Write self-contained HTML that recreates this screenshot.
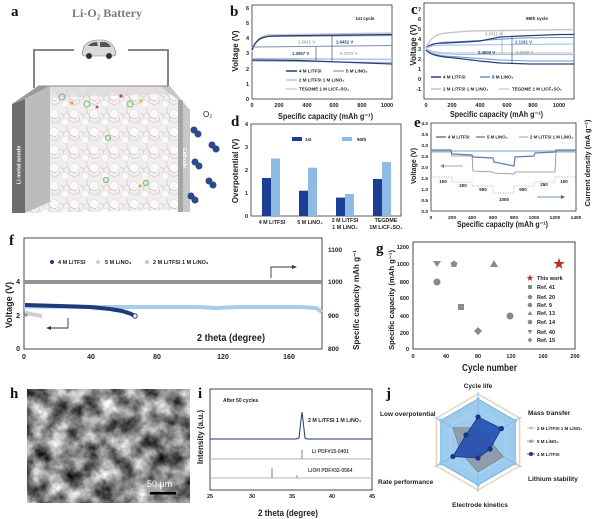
<!DOCTYPE html>
<html><head><meta charset="utf-8"><style>
html,body{margin:0;padding:0;background:#fff;}
svg{display:block;}
text{font-family:"Liberation Sans",Arial,sans-serif;font-weight:bold;fill:#222;}
.s{font-family:"Liberation Serif",serif;font-weight:bold;fill:#111;}
</style></head><body>
<svg width="600" height="519" viewBox="0 0 600 519" xmlns="http://www.w3.org/2000/svg">
<defs>
<pattern id="mol" width="20" height="18" patternUnits="userSpaceOnUse">
<rect width="20" height="18" fill="#f0eeee"/>
<circle cx="14" cy="6" r="4.5" fill="#fafafa" stroke="#d6d6d6" stroke-width="0.5"/>
<circle cx="5" cy="14" r="3.5" fill="#fafafa" stroke="#d6d6d6" stroke-width="0.5"/>
<path d="M0,5 L4,7 L7,4 L10,9 L9,12 L14,15 L19,13 M4,7 L3,10 M10,9 L16,11 M7,4 L7,0 M19,13 L20,9" stroke="#d2b2b2" stroke-width="0.5" fill="none"/>
</pattern>
<pattern id="hatch" width="3" height="3" patternUnits="userSpaceOnUse">
<rect width="3" height="3" fill="#d2d2d2"/>
<path d="M0,3 L3,0" stroke="#a9a9a9" stroke-width="0.6"/>
</pattern>
<filter id="sem" x="0" y="0" width="100%" height="100%" color-interpolation-filters="sRGB">
<feTurbulence type="fractalNoise" baseFrequency="0.06" numOctaves="4" seed="7"/>
<feColorMatrix type="matrix" values="1.3 0 0 0 -0.12  1.3 0 0 0 -0.12  1.3 0 0 0 -0.12  0 0 0 0 1"/>
</filter>
</defs>

<!-- ===== Panel a ===== -->
<text class="s" x="11" y="16" font-size="15">a</text>
<text class="s" x="107" y="17" font-size="12" text-anchor="middle" style="fill:#7a7a7a">Li-O₂ Battery</text>
<path d="M34,88 V50 H74 M128,50 H168 V93" stroke="#777" stroke-width="1.8" fill="none"/>
<g>
<path d="M82,53 L84,46 Q88,41 96,40 L104,40 Q110,41 114,47 L116,53 Q116,56 113,56 L85,56 Q82,56 82,53 Z" fill="#dadada" stroke="#777" stroke-width="0.6"/>
<path d="M88,46 Q91,42 97,42 L98,46 Z" fill="#555"/>
<path d="M100,42 L105,42 Q109,43 111,47 L100,47 Z" fill="#555"/>
<circle cx="89" cy="56" r="3" fill="#333"/><circle cx="109" cy="56" r="3" fill="#333"/>
</g>
<polygon points="50,86 166,86 178,96 178,210 25,213 50,202" fill="url(#mol)"/>
<polygon points="50,86 166,86 172,94 50,98" fill="#d9d4d6" opacity="0.6"/>
<polygon points="12,104 38,86 50,86 25,99" fill="#9a9a9a"/>
<polygon points="25,99 50,86 50,202 25,213" fill="#bcbcbc"/>
<polygon points="12,104 25,99 25,213 12,213" fill="#6d6d6d"/>
<polygon points="160,86 170,86 190,110 190,212 180,212 178,100" fill="url(#hatch)"/>
<rect x="178" y="100" width="5" height="112" fill="#a5a5a5"/>
<path d="M38,86 H168" stroke="#8a8a8a" stroke-width="1"/>
<g fill="none" stroke="#7cc47c" stroke-width="1.2">
<circle cx="62" cy="97" r="3"/><circle cx="87" cy="104" r="3"/><circle cx="130" cy="104" r="3"/><circle cx="108" cy="138" r="2.5"/><circle cx="106" cy="180" r="2.5"/><circle cx="146" cy="183" r="2.5"/>
</g>
<circle cx="72" cy="103" r="1.6" fill="#e8a040"/><circle cx="121" cy="96" r="1.6" fill="#d04040"/><circle cx="141" cy="101" r="1.6" fill="#e0c040"/><circle cx="140" cy="186" r="1.5" fill="#e0b040"/><circle cx="97" cy="107" r="1.4" fill="#d04040"/>
<text x="18.5" y="167" font-size="5.5" text-anchor="middle" transform="rotate(-90 18.5 165)" style="fill:#fff">Li metal anode</text>
<text x="185" y="160" font-size="5" text-anchor="middle" transform="rotate(90 185 158)" style="fill:#fff">Cathode</text>
<text x="203" y="117" font-size="8" style="font-weight:normal">O₂</text>
<g fill="#2c4a8a">
<circle cx="194" cy="130" r="3.5"/><circle cx="198" cy="134" r="3.5"/>
<circle cx="212" cy="145" r="3.5"/><circle cx="216" cy="149" r="3.5"/>
<circle cx="195" cy="162" r="3.5"/><circle cx="199" cy="166" r="3.5"/>
<circle cx="209" cy="181" r="3.5"/><circle cx="213" cy="185" r="3.5"/>
<circle cx="191" cy="196" r="3.5"/><circle cx="195" cy="200" r="3.5"/>
</g>

<!-- ===== Panel b ===== -->
<text class="s" x="230" y="16" font-size="15">b</text>
<rect x="252" y="5" width="140" height="94" fill="none" stroke="#333" stroke-width="0.8"/>
<g font-size="5.5" text-anchor="end">
<text x="249" y="101">0</text><text x="249" y="86">1</text><text x="249" y="71">2</text><text x="249" y="55">3</text><text x="249" y="40">4</text><text x="249" y="25">5</text><text x="249" y="10">6</text>
</g>
<g font-size="5.5" text-anchor="middle">
<text x="252" y="107">0</text><text x="279" y="107">200</text><text x="307" y="107">400</text><text x="334" y="107">600</text><text x="362" y="107">800</text><text x="387" y="107">1000</text>
</g>
<text x="278" y="119" font-size="8" textLength="95" lengthAdjust="spacingAndGlyphs">Specific capacity (mAh g⁻¹)</text>
<text x="0" y="0" font-size="8" text-anchor="middle" transform="translate(238,51) rotate(-90)">Voltage (V)</text>
<g fill="none">
<path d="M252,52 C255,40 260,36 268,35 L392,33" stroke="#c8c8c8" stroke-width="1.5"/>
<path d="M252,48 C256,40 262,37 270,36.5 L392,35.5" stroke="#8aa0bb" stroke-width="1"/>
<path d="M252,50 C256,39 262,36.5 272,36 L392,34.5" stroke="#23407f" stroke-width="1.2"/>
<path d="M252,47 L392,45.5" stroke="#7d8ea6" stroke-width="1"/>
<path d="M252,58.5 L392,59.5" stroke="#a6c6e4" stroke-width="1.5"/>
<path d="M252,61 L392,62.5" stroke="#aaa" stroke-width="1"/>
<path d="M252,60 L300,60.5 L392,64" stroke="#23407f" stroke-width="1.2"/>
<path d="M316,47 V60 M332,36 V61" stroke="#23407f" stroke-width="0.6"/>
</g>
<text x="365" y="20" font-size="4.5" text-anchor="middle">1st cycle</text>
<g font-size="4.3">
<text x="298" y="43.5" style="fill:#aaa">1.5912 V</text>
<text x="336" y="43.5" style="fill:#23407f">1.6452 V</text>
<text x="292" y="55" style="fill:#23407f">1.0957 V</text>
<text x="340" y="55" style="fill:#aaa">0.7073 V</text>
</g>
<g stroke-width="1.5">
<path d="M286,71 H297" stroke="#23407f"/><path d="M333,71 H344" stroke="#aaa"/>
<path d="M286,80 H297" stroke="#a6c6e4"/><path d="M286,89 H297" stroke="#d0d0d0"/>
</g>
<g font-size="4.5">
<text x="299" y="72.5">4 M LiTFSI</text><text x="346" y="72.5">5 M LiNO₃</text>
<text x="299" y="81.5">2 M LiTFSI 1 M LiNO₃</text><text x="299" y="90.5">TEGDME 1 M LiCF₃SO₃</text>
</g>

<!-- ===== Panel c ===== -->
<text class="s" x="411" y="14" font-size="15">c</text>
<rect x="424" y="3" width="150" height="96" fill="none" stroke="#333" stroke-width="0.8"/>
<g font-size="5.5" text-anchor="end">
<text x="421" y="11.5">7</text><text x="421" y="21">6</text><text x="421" y="31">5</text><text x="421" y="41">4</text><text x="421" y="51">3</text><text x="421" y="61">2</text><text x="421" y="71">1</text><text x="421" y="81">0</text><text x="421" y="91">-1</text>
</g>
<g font-size="5.5" text-anchor="middle">
<text x="426" y="107">0</text><text x="452" y="107">200</text><text x="480" y="107">400</text><text x="507" y="107">600</text><text x="533" y="107">800</text><text x="559" y="107">1000</text>
</g>
<text x="450" y="117" font-size="8" textLength="93" lengthAdjust="spacingAndGlyphs">Specific capacity (mAh g⁻¹)</text>
<text x="0" y="0" font-size="8" text-anchor="middle" transform="translate(416,45) rotate(-90)">Voltage (V)</text>
<g fill="none">
<path d="M426,48 C430,38 436,34 446,33 L470,31 L574,29.5" stroke="#c8c8c8" stroke-width="1.5"/>
<path d="M426,48 C432,44 440,42 450,42 L480,40.5 L520,38 L560,37.5 L574,37.5" stroke="#6f95c4" stroke-width="1"/>
<path d="M426,48 C430,44 436,43 446,43 L466,42 L480,41 L500,37 L520,36 L560,34.5 L574,34.5" stroke="#23407f" stroke-width="1.2"/>
<path d="M426,48 C432,45 440,45 460,45 L574,44" stroke="#a6c8e6" stroke-width="1.2"/>
<path d="M426,49 C432,52 440,53 460,53 L574,53" stroke="#cfcfcf" stroke-width="1.2"/>
<path d="M426,49 C432,53 440,54 460,54.5 L574,54.5" stroke="#a6c8e6" stroke-width="1.2"/>
<path d="M426,50 C432,55 440,56 460,57 L500,60 L530,61 L574,61" stroke="#6f95c4" stroke-width="1"/>
<path d="M426,50 C430,55 440,57 455,58 L480,61 L500,63 L530,64 L574,64" stroke="#23407f" stroke-width="1.2"/>
<path d="M502,31 V54" stroke="#6f95c4" stroke-width="0.6"/><path d="M512,36 V64" stroke="#23407f" stroke-width="0.6"/>
</g>
<text x="537" y="20" font-size="4.5" text-anchor="middle">89th cycle</text>
<g font-size="4.3">
<text x="485" y="35.5" style="fill:#aaa">3.0311 V</text>
<text x="515" y="43.5" style="fill:#3b5f9a">2.1161 V</text>
<text x="478" y="54" style="fill:#23407f">2.4603 V</text>
<text x="516" y="54" style="fill:#aaa">0.5669 V</text>
</g>
<g stroke-width="1.5">
<path d="M431,77 H441" stroke="#23407f"/><path d="M480,77 H490" stroke="#6f95c4"/>
<path d="M431,89 H441" stroke="#a6c8e6"/><path d="M499,89 H509" stroke="#cfcfcf"/>
</g>
<g font-size="4.5">
<text x="443" y="78.5">4 M LiTFSI</text><text x="492" y="78.5">5 M LiNO₃</text>
<text x="443" y="90.5">2 M LiTFSI 1 M LiNO₃</text><text x="512" y="90.5">TEGDME 1 M LiCF₃SO₃</text>
</g>

<!-- ===== Panel d ===== -->
<text class="s" x="231" y="126" font-size="15">d</text>
<rect x="251" y="124" width="150" height="92" fill="none" stroke="#333" stroke-width="0.8"/>
<g font-size="5.5" text-anchor="end">
<text x="248" y="218">0</text><text x="248" y="195">1</text><text x="248" y="172">2</text><text x="248" y="149">3</text><text x="248" y="126">4</text>
</g>
<text x="0" y="0" font-size="8" text-anchor="middle" transform="translate(238,171) rotate(-90)">Overpotential (V)</text>
<g fill="#1d3f93">
<rect x="262" y="178" width="9" height="38"/><rect x="299" y="190.7" width="9" height="25.3"/><rect x="336" y="197.6" width="9" height="18.4"/><rect x="373" y="179" width="9" height="37"/>
</g>
<g fill="#8dbbe3">
<rect x="271" y="158.5" width="9" height="57.5"/><rect x="308" y="167.7" width="9" height="48.3"/><rect x="345" y="194" width="9" height="22"/><rect x="382" y="162" width="9" height="54"/>
</g>
<rect x="292" y="137" width="10" height="4" fill="#1d3f93"/><text x="305" y="141" font-size="4.5">1st</text>
<rect x="342" y="137" width="10" height="4" fill="#8dbbe3"/><text x="357" y="141" font-size="4.5">50th</text>
<g font-size="5.3" text-anchor="middle">
<text x="272" y="224">4 M LiTFSI</text><text x="310" y="224">5 M LiNO₃</text>
<text x="345" y="222">2 M LiTFSI</text><text x="345" y="229">1 M LiNO₃</text>
<text x="386" y="222">TEGDME</text><text x="386" y="229">1M LiCF₃SO₃</text>
</g>

<!-- ===== Panel e ===== -->
<text class="s" x="414" y="127" font-size="15">e</text>
<rect x="431" y="123" width="145" height="88" fill="none" stroke="#333" stroke-width="0.8"/>
<g font-size="4.8" text-anchor="end">
<text x="428" y="213">0.0</text><text x="428" y="202">0.5</text><text x="428" y="191">1.0</text><text x="428" y="180">1.5</text><text x="428" y="169">2.0</text><text x="428" y="158">2.5</text><text x="428" y="147">3.0</text><text x="428" y="136">3.5</text><text x="428" y="125">4.0</text>
</g>
<g font-size="4.8" text-anchor="middle">
<text x="431" y="219">0</text><text x="452" y="219">200</text><text x="472" y="219">400</text><text x="493" y="219">600</text><text x="514" y="219">800</text><text x="534" y="219">1000</text><text x="555" y="219">1200</text><text x="576" y="219">1400</text>
</g>
<text x="457" y="227" font-size="8" textLength="91" lengthAdjust="spacingAndGlyphs">Specific capacity (mAh g⁻¹)</text>
<text x="0" y="0" font-size="7" text-anchor="middle" transform="translate(416,166) rotate(-90)">Voltage (V)</text>
<text x="0" y="0" font-size="7" text-anchor="middle" transform="translate(590,163) rotate(-90)" textLength="87" lengthAdjust="spacingAndGlyphs">Current density (mA g⁻¹)</text>
<g fill="none">
<path d="M431,151 H576" stroke="#9fc3e3" stroke-width="1.6"/>
<path d="M431,152 L451,152 L452,156 L472,156 L473,171 L493,172 L494,173 L514,174 L515,172 L534,172 L555,172 L556,152 L576,152" stroke="#8a8a8a" stroke-width="0.8"/>
<path d="M431,150 L451,150 L452,154 L472,155 L473,157 L493,158 L494,162 L514,166 L515,157 L534,156 L535,153 L555,152 L556,150 L576,150" stroke="#5d7fa8" stroke-width="1.2"/>
<path d="M431,177 H452 V182 H472 V186 H493 V193 H514 V186 H534 V182 H555 V177 H576" stroke="#bbb" stroke-width="0.8" stroke-dasharray="1.5,1"/>
<path d="M463,166 H441" stroke="#888" stroke-width="0.8"/><path d="M440,166 L444,164 L444,168 Z" fill="#888"/>
<path d="M537,197 H562" stroke="#3a6ea5" stroke-width="0.8"/><path d="M565,197 L561,195 L561,199 Z" fill="#3a6ea5"/>
</g>
<g font-size="4.5" text-anchor="middle" style="fill:#444">
<text x="443" y="183">100</text><text x="463" y="187">200</text><text x="483" y="191">500</text><text x="504" y="201">1000</text><text x="523" y="191">500</text><text x="544" y="186">250</text><text x="564" y="183">100</text>
</g>
<g stroke-width="1.5">
<path d="M436,137 H446" stroke="#5d7fa8"/><path d="M476,137 H485" stroke="#8a8a8a"/><path d="M519,137 H528" stroke="#9fc3e3"/>
</g>
<g font-size="4.3">
<text x="448" y="138.5">4 M LiTFSI</text><text x="487" y="138.5">5 M LiNO₃</text><text x="530" y="138.5">2 M LiTFSI 1 M LiNO₃</text>
</g>

<!-- ===== Panel f ===== -->
<text class="s" x="9" y="245" font-size="15">f</text>
<rect x="24" y="238" width="298" height="111" fill="none" stroke="#333" stroke-width="0.9"/>
<g font-size="7" text-anchor="end">
<text x="20" y="351">0</text><text x="20" y="318">2</text><text x="20" y="284">4</text>
</g>
<g font-size="7" text-anchor="middle">
<text x="24" y="359">0</text><text x="91" y="359">40</text><text x="157" y="359">80</text><text x="223" y="359">120</text><text x="289" y="359">160</text>
</g>
<g font-size="6.5">
<text x="328" y="351">800</text><text x="328" y="318">900</text><text x="328" y="284">1000</text><text x="328" y="252">1100</text>
</g>
<text x="0" y="0" font-size="9" text-anchor="middle" transform="translate(12,305) rotate(-90)">Voltage (V)</text>
<text x="0" y="0" font-size="8.5" text-anchor="middle" transform="translate(359,300) rotate(-90)" textLength="100" lengthAdjust="spacingAndGlyphs">Specific capacity mAh g⁻¹</text>
<text x="197" y="341" font-size="10" textLength="68" lengthAdjust="spacingAndGlyphs">2 theta (degree)</text>
<path d="M24,282 H322" stroke="#939393" stroke-width="4"/>
<path d="M24,306.5 L110,307 L200,307 L215,308 L240,307 L300,307 L316,308 L322,312" stroke="#a9cce8" stroke-width="4" fill="none"/>
<path d="M25,312 L30,314 L42,316" stroke="#cfcfcf" stroke-width="4" fill="none"/>
<circle cx="26" cy="315" r="1.8" fill="#8aa3c0"/>
<path d="M25,305 L60,306 L90,307 L110,309 L122,311 L130,313.5 L135,316" stroke="#1d3a7a" stroke-width="4" fill="none"/>
<circle cx="135" cy="316" r="2.2" fill="#fff" stroke="#1d3a7a" stroke-width="1"/>
<path d="M68,318 V328 H50" stroke="#333" stroke-width="0.9" fill="none"/><path d="M46,328 L51,326 L51,330 Z" fill="#333"/>
<path d="M271,278 V267 H293" stroke="#333" stroke-width="0.9" fill="none"/><path d="M297,267 L292,265 L292,269 Z" fill="#333"/>
<circle cx="52" cy="262" r="2" fill="#1d3a7a"/><circle cx="98" cy="262" r="2" fill="#d0d0d0"/><circle cx="147" cy="262" r="2" fill="#a9cce8"/>
<g font-size="5.5">
<text x="58" y="264">4 M LiTFSI</text><text x="105" y="264">5 M LiNO₃</text><text x="153" y="264">2 M LiTFSI 1 M LiNO₃</text>
</g>

<!-- ===== Panel g ===== -->
<text class="s" x="376" y="253" font-size="15">g</text>
<rect x="413" y="242" width="162" height="107" fill="none" stroke="#333" stroke-width="0.9"/>
<g font-size="5.5" text-anchor="end">
<text x="409" y="351">0</text><text x="409" y="335">200</text><text x="409" y="318">400</text><text x="409" y="300">600</text><text x="409" y="284">800</text><text x="409" y="266">1000</text><text x="409" y="249">1200</text>
</g>
<g font-size="5.5" text-anchor="middle">
<text x="413" y="358">0</text><text x="446" y="358">40</text><text x="478" y="358">80</text><text x="511" y="358">120</text><text x="543" y="358">160</text><text x="575" y="358">200</text>
</g>
<text x="0" y="0" font-size="7.5" text-anchor="middle" transform="translate(394,300) rotate(-90)" textLength="100" lengthAdjust="spacingAndGlyphs">Specific capacity (mAh g⁻¹)</text>
<text x="462" y="371" font-size="10" textLength="55" lengthAdjust="spacingAndGlyphs">Cycle number</text>
<g fill="#8a8a8a">
<polygon points="433,261 441,261 437,267"/>
<polygon points="454,260.5 457.5,263 456.2,267 451.8,267 450.5,263"/>
<polygon points="490,267 498,267 494,260"/>
<circle cx="437" cy="282" r="3.5"/>
<rect x="458" y="304" width="6" height="6"/>
<circle cx="510" cy="316" r="3.5"/>
<polygon points="478,327 482,331 478,335 474,331"/>
</g>
<path transform="translate(559,264)" d="M0,-6 L1.41,-1.94 L5.71,-1.85 L2.28,0.74 L3.53,4.85 L0,2.4 L-3.53,4.85 L-2.28,0.74 L-5.71,-1.85 L-1.41,-1.94 Z" fill="#b8302a"/>
<path transform="translate(530,278) scale(0.6)" d="M0,-6 L1.41,-1.94 L5.71,-1.85 L2.28,0.74 L3.53,4.85 L0,2.4 L-3.53,4.85 L-2.28,0.74 L-5.71,-1.85 L-1.41,-1.94 Z" fill="#b8302a"/>
<g fill="#8a8a8a">
<rect x="528" y="285" width="4" height="4"/>
<polygon points="530,294.5 532.4,296.3 531.5,299 528.5,299 527.6,296.3"/>
<circle cx="530" cy="305" r="2.3"/>
<polygon points="527.5,315 532.5,315 530,311"/>
<circle cx="530" cy="322" r="2.3"/>
<polygon points="527.5,330 532.5,330 530,334"/>
<polygon points="530,337.5 532.5,340 530,342.5 527.5,340"/>
</g>
<g font-size="5.5">
<text x="537" y="280">This work</text><text x="537" y="289">Ref. 41</text><text x="537" y="299">Ref. 20</text><text x="537" y="307">Ref. 9</text><text x="537" y="315">Ref. 13</text><text x="537" y="324">Ref. 14</text><text x="537" y="334">Ref. 40</text><text x="537" y="342">Ref. 15</text>
</g>

<!-- ===== Panel h ===== -->
<text class="s" x="10" y="398" font-size="15">h</text>
<rect x="27" y="389" width="163" height="114" fill="#888" filter="url(#sem)"/>
<text x="147" y="487" font-size="9" style="fill:#fff;font-weight:normal">50 μm</text>
<rect x="150" y="492" width="26" height="2.5" fill="#000"/>

<!-- ===== Panel i ===== -->
<text class="s" x="198" y="398" font-size="15">i</text>
<rect x="210" y="389" width="162" height="101" fill="none" stroke="#333" stroke-width="0.9"/>
<g font-size="5.5" text-anchor="middle">
<text x="210" y="498">25</text><text x="252" y="498">30</text><text x="292" y="498">35</text><text x="332" y="498">40</text><text x="372" y="498">45</text>
</g>
<text x="258" y="516" font-size="9" textLength="60" lengthAdjust="spacingAndGlyphs">2 theta (degree)</text>
<text x="0" y="0" font-size="8" text-anchor="middle" transform="translate(203,437) rotate(-90)">Intensity (a.u.)</text>
<text x="223" y="402" font-size="5">After 50 cycles</text>
<path d="M210,439 L296,439 L299,438 L301,420 L302,412 L303,420 L305,438 L307,439 L372,439" stroke="#1d3a7a" stroke-width="1" fill="none"/>
<path d="M210,459 H372 M210,478 H372" stroke="#b5b5b5" stroke-width="1"/>
<path d="M302,450 V459" stroke="#aaa" stroke-width="1.5"/>
<path d="M272,468 V478 M297,475 V478" stroke="#999" stroke-width="1.2"/>
<text x="308" y="422" font-size="5.3">2 M LiTFSI 1 M LiNO₃</text>
<text x="312" y="453" font-size="5" style="fill:#444">Li PDF#15-0401</text>
<text x="308" y="472" font-size="5" style="fill:#444">LiOH PDF#32-0564</text>

<!-- ===== Panel j ===== -->
<text class="s" x="386" y="398" font-size="15">j</text>
<polygon points="478,394 519.6,418 519.6,466 478,490 436.4,466 436.4,418" fill="none" stroke="#e6d5bd" stroke-width="1.5"/>
<polygon points="478,399 515.2,420.5 515.2,463.5 478,485 440.8,463.5 440.8,420.5" fill="#9ccbee" stroke="#6fb0e0" stroke-width="1"/>
<polygon points="478,410 505.7,426 505.7,458 478,474 450.3,458 450.3,426" fill="none" stroke="#b7daf3" stroke-width="0.6"/>
<path d="M478,442 V392 M478,442 V492 M478,442 L521.3,417 M478,442 L521.3,467 M478,442 L434.7,417 M478,442 L434.7,467" stroke="#7fb5e0" stroke-width="0.8"/>
<polygon points="478,428 486.7,437 503.1,456.5 478,472 460.7,452 452.9,427.5" fill="#8a8f99" fill-opacity="0.75" stroke="#777" stroke-width="0.6"/>
<polygon points="478,417 501.4,428.5 490.1,449 478,458 452.9,456.5 465.9,435" fill="#2450b0" fill-opacity="0.92" stroke="#1a3585" stroke-width="0.8"/>
<g fill="#1a3585">
<circle cx="478" cy="417" r="2.6"/><circle cx="501.4" cy="428.5" r="2.6"/><circle cx="490.1" cy="449" r="2.6"/><circle cx="478" cy="458" r="2.6"/><circle cx="452.9" cy="456.5" r="2.6"/><circle cx="465.9" cy="435" r="2.6"/>
</g>
<g fill="#8fc3ea">
<circle cx="478" cy="399" r="1.8"/><circle cx="515.2" cy="420.5" r="1.8"/><circle cx="515.2" cy="463.5" r="1.8"/><circle cx="478" cy="485" r="1.8"/><circle cx="440.8" cy="463.5" r="1.8"/><circle cx="440.8" cy="420.5" r="1.8"/>
</g>
<g font-size="6.5">
<text x="478" y="388" text-anchor="middle">Cycle life</text>
<text x="380" y="416">Low overpotential</text>
<text x="528" y="415">Mass transfer</text>
<text x="378" y="484">Rate performance</text>
<text x="528" y="481">Lithium stability</text>
<text x="480" y="507" text-anchor="middle">Electrode kinetics</text>
</g>
<path d="M527,428 H535" stroke="#8fc3ea" stroke-width="0.8"/><circle cx="531" cy="428" r="1.5" fill="#8fc3ea"/>
<path d="M527,441 H535" stroke="#888" stroke-width="0.8"/><polygon points="529,442.5 533,442.5 531,439" fill="#888"/>
<path d="M527,454 H535" stroke="#1a3585" stroke-width="0.8"/><circle cx="531" cy="454" r="2" fill="#1a3585"/>
<g font-size="4.5">
<text x="537" y="430">2 M LiTFSI 1 M LiNO₃</text><text x="537" y="443">5 M LiNO₃</text><text x="537" y="456">4 M LiTFSI</text>
</g>
</svg>
</body></html>
